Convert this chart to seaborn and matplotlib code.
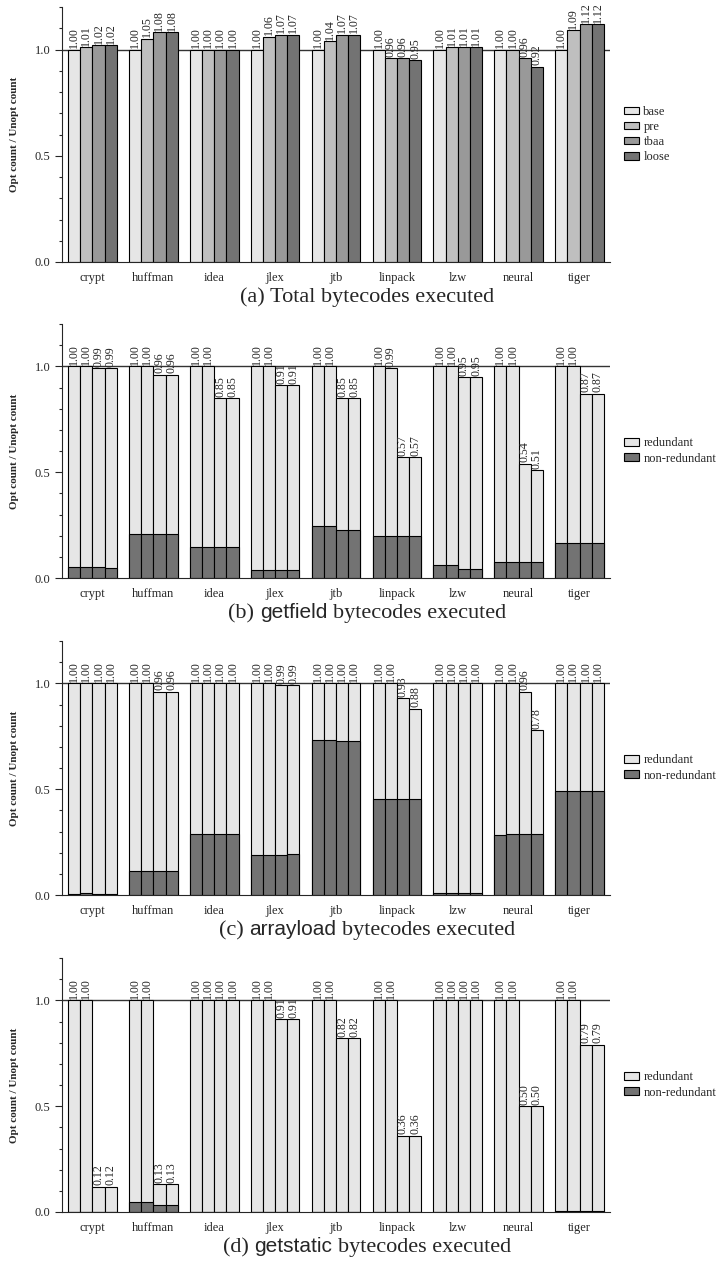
import numpy as np
import pandas as pd
import matplotlib
matplotlib.use("Agg")
import matplotlib.pyplot as plt
import seaborn as sns
from matplotlib.patches import Patch
from matplotlib.ticker import MultipleLocator, FixedLocator, FormatStrFormatter

# ---------------- data ----------------
benchmarks = ["crypt", "huffman", "idea", "jlex", "jtb", "linpack", "lzw", "neural", "tiger"]
variants = ["base", "pre", "tbaa", "loose"]

# (a) total bytecodes executed
a_base  = [1.00, 1.00, 1.00, 1.00, 1.00, 1.00, 1.00, 1.00, 1.00]
a_pre   = [1.01, 1.05, 1.00, 1.06, 1.04, 0.96, 1.01, 1.00, 1.09]
a_tbaa  = [1.02, 1.08, 1.00, 1.07, 1.07, 0.96, 1.01, 0.96, 1.12]
a_loose = [1.02, 1.08, 1.00, 1.07, 1.07, 0.95, 1.01, 0.92, 1.12]

# (b) getfield: totals and non-redundant part
b_tot_base  = [1.00, 1.00, 1.00, 1.00, 1.00, 1.00, 1.00, 1.00, 1.00]
b_tot_pre   = [1.00, 1.00, 1.00, 1.00, 1.00, 0.99, 1.00, 1.00, 1.00]
b_tot_tbaa  = [0.99, 0.96, 0.85, 0.91, 0.85, 0.57, 0.95, 0.54, 0.87]
b_tot_loose = [0.99, 0.96, 0.85, 0.91, 0.85, 0.57, 0.95, 0.51, 0.87]
b_nr_base   = [0.053, 0.210, 0.145, 0.040, 0.248, 0.200, 0.063, 0.076, 0.166]
b_nr_pre    = [0.052, 0.210, 0.145, 0.040, 0.248, 0.200, 0.063, 0.077, 0.167]
b_nr_tbaa   = [0.051, 0.210, 0.145, 0.040, 0.229, 0.199, 0.044, 0.077, 0.167]
b_nr_loose  = [0.049, 0.210, 0.145, 0.040, 0.229, 0.198, 0.044, 0.077, 0.166]

# (c) arrayload
c_tot_base  = [1.00, 1.00, 1.00, 1.00, 1.00, 1.00, 1.00, 1.00, 1.00]
c_tot_pre   = [1.00, 1.00, 1.00, 1.00, 1.00, 1.00, 1.00, 1.00, 1.00]
c_tot_tbaa  = [1.00, 0.96, 1.00, 0.99, 1.00, 0.93, 1.00, 0.96, 1.00]
c_tot_loose = [1.00, 0.96, 1.00, 0.99, 1.00, 0.88, 1.00, 0.78, 1.00]
c_nr_base   = [0.007, 0.114, 0.290, 0.189, 0.732, 0.455, 0.009, 0.284, 0.491]
c_nr_pre    = [0.008, 0.114, 0.290, 0.189, 0.732, 0.455, 0.009, 0.289, 0.492]
c_nr_tbaa   = [0.006, 0.114, 0.290, 0.189, 0.729, 0.455, 0.009, 0.290, 0.493]
c_nr_loose  = [0.007, 0.114, 0.290, 0.192, 0.729, 0.455, 0.009, 0.290, 0.492]

# (d) getstatic
d_tot_base  = [1.00, 1.00, 1.00, 1.00, 1.00, 1.00, 1.00, 1.00, 1.00]
d_tot_pre   = [1.00, 1.00, 1.00, 1.00, 1.00, 1.00, 1.00, 1.00, 1.00]
d_tot_tbaa  = [0.12, 0.13, 1.00, 0.91, 0.82, 0.36, 1.00, 0.50, 0.79]
d_tot_loose = [0.12, 0.13, 1.00, 0.91, 0.82, 0.36, 1.00, 0.50, 0.79]
d_nr_base   = [0.000, 0.046, 0.000, 0.000, 0.000, 0.000, 0.000, 0.000, 0.003]
d_nr_pre    = [0.000, 0.046, 0.000, 0.000, 0.000, 0.000, 0.000, 0.000, 0.003]
d_nr_tbaa   = [0.000, 0.035, 0.000, 0.000, 0.000, 0.000, 0.000, 0.000, 0.003]
d_nr_loose  = [0.000, 0.035, 0.000, 0.000, 0.000, 0.000, 0.000, 0.000, 0.003]

# ---------------- style ----------------
sns.set_style("ticks")
plt.rcParams["font.family"] = ["Liberation Serif", "DejaVu Serif"]
plt.rcParams["axes.linewidth"] = 0.8

SERIF = ["Liberation Serif", "DejaVu Serif"]
SANS = ["Liberation Sans", "DejaVu Sans"]

variant_colors = {"base": "#e6e6e6", "pre": "#bfbfbf", "tbaa": "#999999", "loose": "#737373"}
RED_COLOR = "#e6e6e6"
NONRED_COLOR = "#737373"

W, H = 717, 1267
fig = plt.figure(figsize=(W / 100, H / 100), dpi=100)

AX_LEFT, AX_RIGHT = 62, 610
panel_tops = [7, 324, 641, 958]
panel_bottoms = [262, 578, 895, 1212]


def make_ax(i):
    top, bot = panel_tops[i], panel_bottoms[i]
    return fig.add_axes([AX_LEFT / W, 1 - bot / H, (AX_RIGHT - AX_LEFT) / W, (bot - top) / H])


def long_df(cols):
    rows = []
    for v, vals in zip(variants, cols):
        for b, val in zip(benchmarks, vals):
            rows.append({"benchmark": b, "variant": v, "value": val})
    return pd.DataFrame(rows)


def style_ax(ax):
    ax.set_ylim(0, 1.2)
    ax.set_xlim(-0.5, len(benchmarks) - 0.5)
    ax.yaxis.set_major_locator(FixedLocator([0.0, 0.5, 1.0]))
    ax.yaxis.set_major_formatter(FormatStrFormatter("%.1f"))
    ax.yaxis.set_minor_locator(MultipleLocator(0.1))
    ax.tick_params(axis="y", which="major", length=5, width=0.8, pad=3.5, labelsize=9)
    ax.tick_params(axis="y", which="minor", length=2.4, width=0.8)
    ax.tick_params(axis="x", length=0, pad=7, labelsize=9)
    for lab in ax.get_yticklabels() + ax.get_xticklabels():
        lab.set_fontfamily(SERIF)
    ax.spines["top"].set_visible(False)
    ax.spines["right"].set_visible(False)
    ax.set_xlabel("")
    ax.set_ylabel("Opt count / Unopt count", fontsize=8, fontweight="bold", labelpad=11)
    ax.axhline(1.0, color="#333333", lw=1.0, zorder=0.5)


def add_labels(ax, containers):
    for cont in containers:
        vals = [p.get_height() for p in cont]
        ax.bar_label(cont, labels=[f"{v:.2f}" for v in vals], rotation=90,
                     fontsize=8.6, padding=1, family=SERIF)


def add_legend(ax, labels, colors):
    handles = [Patch(facecolor=c, edgecolor="black", linewidth=0.8, label=l)
               for l, c in zip(labels, colors)]
    pos = ax.get_position()
    ax.legend(handles=handles, loc="center left",
              bbox_to_anchor=(624 / W, pos.y0 + pos.height / 2),
              bbox_transform=fig.transFigure, frameon=False,
              handlelength=1.2, handleheight=0.55, handletextpad=0.35,
              labelspacing=0.25, borderpad=0, borderaxespad=0,
              prop={"family": SERIF, "size": 9})


# ---- panel (a)
ax = make_ax(0)
df_a = long_df([a_base, a_pre, a_tbaa, a_loose])
sns.barplot(data=df_a, x="benchmark", y="value", hue="variant", hue_order=variants,
            order=benchmarks, palette=variant_colors, edgecolor="black", linewidth=0.8,
            errorbar=None, legend=False, ax=ax)
style_ax(ax)
add_labels(ax, ax.containers[:4])
add_legend(ax, variants, [variant_colors[v] for v in variants])

# ---- stacked panels (b), (c), (d)
stacked = [
    ([b_tot_base, b_tot_pre, b_tot_tbaa, b_tot_loose], [b_nr_base, b_nr_pre, b_nr_tbaa, b_nr_loose]),
    ([c_tot_base, c_tot_pre, c_tot_tbaa, c_tot_loose], [c_nr_base, c_nr_pre, c_nr_tbaa, c_nr_loose]),
    ([d_tot_base, d_tot_pre, d_tot_tbaa, d_tot_loose], [d_nr_base, d_nr_pre, d_nr_tbaa, d_nr_loose]),
]
for i, (tot, nr) in enumerate(stacked, start=1):
    ax = make_ax(i)
    sns.barplot(data=long_df(tot), x="benchmark", y="value", hue="variant", hue_order=variants,
                order=benchmarks, palette={v: RED_COLOR for v in variants},
                edgecolor="black", linewidth=0.8, errorbar=None, legend=False, ax=ax)
    n_tot = len(ax.containers)
    sns.barplot(data=long_df(nr), x="benchmark", y="value", hue="variant", hue_order=variants,
                order=benchmarks, palette={v: NONRED_COLOR for v in variants},
                edgecolor="black", linewidth=0.8, errorbar=None, legend=False, ax=ax)
    style_ax(ax)
    add_labels(ax, ax.containers[:n_tot])
    add_legend(ax, ["redundant", "non-redundant"], [RED_COLOR, NONRED_COLOR])

# ---------------- captions ----------------
renderer = fig.canvas.get_renderer()
CAP_CENTER = 367
SERIF_SIZE = 16
SANS_SIZE = 15
SPACE = 5.5


def caption(bottom_px, parts):
    texts = []
    widths = []
    for s, fam, size in parts:
        t = fig.text(0, 0, s, family=fam, fontsize=size, va="baseline", ha="left")
        texts.append(t)
        widths.append(t.get_window_extent(renderer).width)
    total = sum(widths) + SPACE * (len(parts) - 1)
    x = CAP_CENTER - total / 2
    y = 1 - (bottom_px + 40) / H
    for t, w in zip(texts, widths):
        t.set_position((x / W, y))
        x += w + SPACE


caption(panel_bottoms[0], [("(a)", SERIF, SERIF_SIZE), ("Total bytecodes executed", SERIF, SERIF_SIZE)])
caption(panel_bottoms[1], [("(b)", SERIF, SERIF_SIZE), ("getfield", SANS, SANS_SIZE),
                           ("bytecodes executed", SERIF, SERIF_SIZE)])
caption(panel_bottoms[2], [("(c)", SERIF, SERIF_SIZE), ("arrayload", SANS, SANS_SIZE),
                           ("bytecodes executed", SERIF, SERIF_SIZE)])
caption(panel_bottoms[3], [("(d)", SERIF, SERIF_SIZE), ("getstatic", SANS, SANS_SIZE),
                           ("bytecodes executed", SERIF, SERIF_SIZE)])

fig.savefig("out.png", dpi=100)
